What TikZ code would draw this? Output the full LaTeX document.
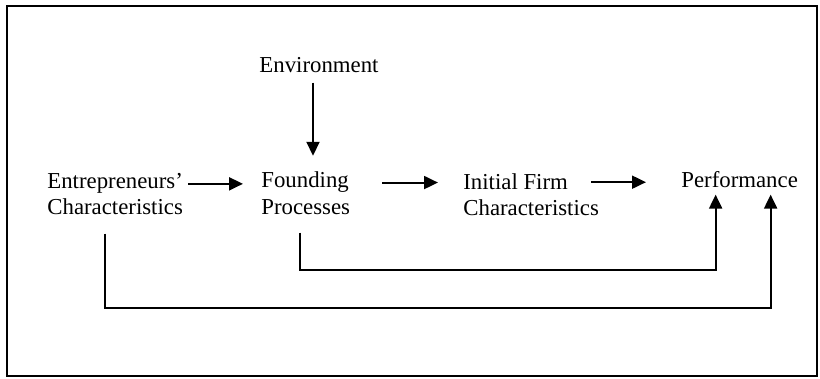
\documentclass[tikz,border=0pt]{standalone}
\usepackage{fontspec}
\setmainfont{Liberation Serif}
\usetikzlibrary{arrows.meta,positioning}

\begin{document}
\begin{tikzpicture}[x=0.5pt,y=-0.5pt,
  label text/.style={inner sep=0pt,font=\fontsize{11.4}{13.7}\selectfont},
  link/.style={line width=1pt,-{Triangle[length=7pt,width=6.5pt]}}]
\useasboundingbox (0,0) rectangle (820,379);
\draw[line width=1pt] (7,6) rectangle (817,376);
% stages of the founding model
\node[label text,anchor=base] (env) at (319,73) {Environment};
\node[label text,anchor=base west] (ent) at (47,189) {Entrepreneurs'};
\node[label text,anchor=base west] (entc) at (47,215) {Characteristics};
\node[label text,anchor=base west] (found) at (261,188) {Founding};
\node[label text,anchor=base west] (procs) at (261,215) {Processes};
\node[label text,anchor=base west] (init) at (463,190) {Initial Firm};
\node[label text,anchor=base west] (initc) at (463,216) {Characteristics};
\node[label text,anchor=base west] (perf) at (681,188) {Performance};
% main chain
\draw[link,shorten <=4.5pt,shorten >=8pt] ([xshift=-3pt]env.south) -- ([xshift=-3pt]env.south |- found.north);
\draw[link,shorten <=2.5pt,shorten >=9pt] (ent.east) -- (ent.east -| found.west);
\draw[link,shorten <=16.5pt,shorten >=12.5pt] (found.east) -- (found.east -| init.west);
\draw[link,shorten <=11.5pt,shorten >=17.5pt] (init.east) -- (init.east -| perf.west);
% direct effects on performance
\draw[link] ([xshift=-3pt,yshift=-8.5pt]procs.south) -- ++(0,37) -| ([xshift=-12pt,yshift=-3pt]perf.south);
\draw[link] ([xshift=-5pt,yshift=-9pt]entc.south) -- ++(0,74) -| ([xshift=15.5pt,yshift=-3pt]perf.south);
\end{tikzpicture}
\end{document}
